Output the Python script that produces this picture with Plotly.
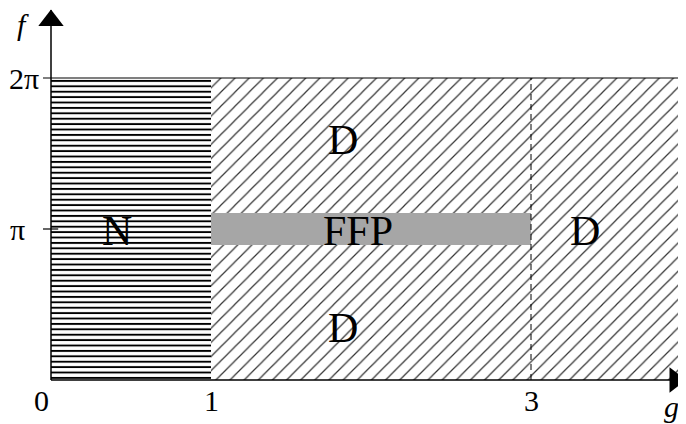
import math
import plotly.graph_objects as go

PI = math.pi

# ---- data -------------------------------------------------------------
region_names = ["N", "D", "FFP"]
region_g0 = [0.0, 1.0, 1.0]          # left edge in g
region_g1 = [1.0, 3.93, 3.0]          # right edge in g
region_f0 = [0.0, 0.0, 0.894 * PI]    # bottom edge in f
region_f1 = [2 * PI, 2 * PI, 1.106 * PI]  # top edge in f

label_texts = ["D", "N", "FFP", "D", "D"]
label_g = [1.825, 0.41, 1.92, 3.34, 1.825]
label_f = [1.587 * PI, 0.99 * PI, 0.99 * PI, 0.99 * PI, 0.343 * PI]

x_ticks = [0, 1, 3]
x_tick_text = ["0", "1", "3"]
y_ticks = [PI, 2 * PI]
y_tick_text = ["π", "2π"]
y_tick_shift = [-24, -10]

g_dashed = 3.0
g_axis_end = 3.95
f_axis_end = 2.45 * PI

# ---- figure -----------------------------------------------------------
SERIF = "Liberation Serif, Times New Roman, serif"
W, H = 678, 416          # page body has an 8px margin
OX, OY = 43, 372         # origin position inside the figure (px)
SX, SY = 160, 151        # px per unit g, px per pi

fig = go.Figure()

# N region (horizontal hatching)
fig.add_trace(go.Bar(
    x=[(region_g0[0] + region_g1[0]) / 2], y=[region_f1[0] - region_f0[0]],
    base=[region_f0[0]], width=[region_g1[0] - region_g0[0]],
    marker=dict(color="white", line=dict(width=0),
                pattern=dict(shape="-", fgcolor="black", bgcolor="white",
                             size=5.4, solidity=0.35, fillmode="replace")),
    hoverinfo="skip", showlegend=False))

# D region (diagonal hatching)
fig.add_trace(go.Bar(
    x=[(region_g0[1] + region_g1[1]) / 2], y=[region_f1[1] - region_f0[1]],
    base=[region_f0[1]], width=[region_g1[1] - region_g0[1]],
    marker=dict(color="white", line=dict(width=0),
                pattern=dict(shape="/", fgcolor="#333333", bgcolor="white",
                             size=10, solidity=0.12, fillmode="replace")),
    hoverinfo="skip", showlegend=False))

# FFP band (grey)
fig.add_trace(go.Bar(
    x=[(region_g0[2] + region_g1[2]) / 2], y=[region_f1[2] - region_f0[2]],
    base=[region_f0[2]], width=[region_g1[2] - region_g0[2]],
    marker=dict(color="#a6a6a6", line=dict(width=0)),
    hoverinfo="skip", showlegend=False))

# dashed line at g=3
fig.add_trace(go.Scatter(x=[g_dashed, g_dashed], y=[0, 2 * PI], mode="lines",
                         line=dict(color="black", width=1, dash="6px,4px"),
                         hoverinfo="skip", showlegend=False))

# top boundary f = 2pi
fig.add_trace(go.Scatter(x=[-0.05, region_g1[1]], y=[2 * PI, 2 * PI], mode="lines",
                         line=dict(color="black", width=1.2),
                         hoverinfo="skip", showlegend=False))
# pi tick
fig.add_trace(go.Scatter(x=[-0.05, 0.045], y=[PI, PI], mode="lines",
                         line=dict(color="black", width=1.2),
                         hoverinfo="skip", showlegend=False))

# axes
fig.add_trace(go.Scatter(x=[0, g_axis_end], y=[0, 0], mode="lines",
                         line=dict(color="black", width=1.5),
                         hoverinfo="skip", showlegend=False))
fig.add_trace(go.Scatter(x=[0, 0], y=[0, f_axis_end], mode="lines",
                         line=dict(color="black", width=1.5),
                         hoverinfo="skip", showlegend=False))
# arrowheads
fig.add_trace(go.Scatter(x=[g_axis_end - 0.05], y=[0], mode="markers", cliponaxis=False,
                         marker=dict(symbol="triangle-right", size=22, color="black",
                                     line=dict(width=0)),
                         hoverinfo="skip", showlegend=False))
fig.add_trace(go.Scatter(x=[0], y=[f_axis_end - 0.07 * PI], mode="markers", cliponaxis=False,
                         marker=dict(symbol="triangle-up", size=22, color="black",
                                     line=dict(width=0)),
                         hoverinfo="skip", showlegend=False))

annotations = []
for t, gx, fy in zip(label_texts, label_g, label_f):
    annotations.append(dict(x=gx, y=fy, text=t, showarrow=False,
                            font=dict(family=SERIF, size=42, color="black"),
                            xanchor="center", yanchor="middle"))
for tv, tt in zip(x_ticks, x_tick_text):
    annotations.append(dict(x=tv, y=0, text=tt, showarrow=False,
                            font=dict(family=SERIF, size=30, color="black"),
                            xanchor="center", yanchor="top", yshift=-2,
                            xshift=-10 if tv == 0 else 0))
for tv, tt, sh in zip(y_ticks, y_tick_text, y_tick_shift):
    annotations.append(dict(x=0, y=tv, text=tt, showarrow=False,
                            font=dict(family=SERIF, size=30, color="black"),
                            xanchor="right", yanchor="middle", xshift=sh))
annotations.append(dict(x=0, y=f_axis_end, text="<i>f</i> ", showarrow=False,
                        font=dict(family=SERIF, size=30, color="black"),
                        xanchor="center", yanchor="middle", xshift=-26, yshift=-14))
annotations.append(dict(x=g_axis_end, y=0, text="<i>g</i>", showarrow=False,
                        font=dict(family=SERIF, size=30, color="black"),
                        xanchor="center", yanchor="top", xshift=-12, yshift=-8))

fig.update_layout(
    width=W, height=H,
    margin=dict(l=0, r=0, t=0, b=0),
    paper_bgcolor="white", plot_bgcolor="white",
    barmode="overlay",
    annotations=annotations,
    xaxis=dict(range=[-OX / SX, (W - OX) / SX], visible=False, fixedrange=True),
    yaxis=dict(range=[-(H - OY) / SY * PI, OY / SY * PI], visible=False, fixedrange=True),
)

fig.write_html("out.html")
